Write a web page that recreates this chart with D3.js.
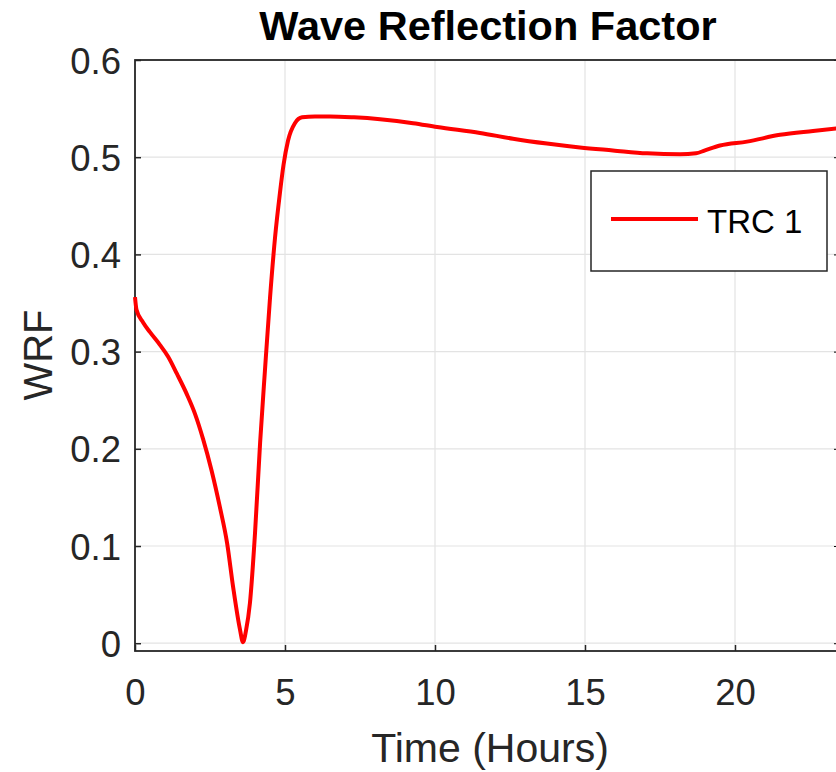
<!DOCTYPE html>
<html>
<head>
<meta charset="utf-8">
<script src="https://cdn.jsdelivr.net/npm/d3@7"></script>
<style>
  html, body { margin: 0; padding: 0; background: #fff; overflow: hidden; }
  text { font-family: "Liberation Sans", Arial, Helvetica, sans-serif; }
</style>
</head>
<body>
<div id="chart"></div>
<script>
// data
var hours = [0, 0.05, 0.27, 0.5, 0.83, 1.1, 1.4, 1.73, 2.0, 2.27, 2.55, 2.83, 3.07, 3.27, 3.5, 3.6,
             3.7, 3.83, 4.0, 4.17, 4.33, 4.5, 4.67, 4.83, 4.95, 5.1, 5.33, 5.57, 6.0, 6.5, 7.3, 8.17,
             9.27, 10.07, 11.5, 12.6, 13.73, 14.83, 15.93, 17.07, 18.17, 18.7, 19.0, 19.5, 20.4, 21.5,
             22.6, 23.5];
var wrf = [0.356, 0.343, 0.330, 0.320, 0.307, 0.295, 0.277, 0.256, 0.236, 0.210, 0.178, 0.140, 0.103, 0.058, 0.014, 0.001,
           0.013, 0.041, 0.113, 0.206, 0.280, 0.355, 0.418, 0.463, 0.492, 0.517, 0.535, 0.541, 0.542, 0.542, 0.541, 0.539,
           0.535, 0.531, 0.525, 0.519, 0.514, 0.510, 0.507, 0.504, 0.503, 0.504, 0.507, 0.512, 0.516, 0.523,
           0.527, 0.530];
var xTicks = [0, 5, 10, 15, 20];
var yTicks = [0, 0.1, 0.2, 0.3, 0.4, 0.5, 0.6];
var seriesName = "TRC 1";

var W = 836, H = 772;
var margin = {top: 60, right: -4, bottom: 121, left: 135};
var axisColor = "#262626";
var gridColor = "#e3e3e3";

var svg = d3.select("#chart").append("svg")
    .attr("width", W)
    .attr("height", H);

var x = d3.scaleLinear().domain([0, 23.5]).range([margin.left, W - margin.right]);
var y = d3.scaleLinear().domain([-0.008, 0.6]).range([H - margin.bottom, margin.top]);

// grid
svg.append("g").selectAll("line.gx")
    .data(xTicks).enter().append("line")
    .attr("x1", function(d) { return x(d); }).attr("x2", function(d) { return x(d); })
    .attr("y1", y.range()[0]).attr("y2", y.range()[1])
    .attr("stroke", gridColor).attr("stroke-width", 1.2);
svg.append("g").selectAll("line.gy")
    .data(yTicks).enter().append("line")
    .attr("x1", x.range()[0]).attr("x2", x.range()[1])
    .attr("y1", function(d) { return y(d); }).attr("y2", function(d) { return y(d); })
    .attr("stroke", gridColor).attr("stroke-width", 1.2);

// axes (inward ticks, MATLAB style)
var xAxis = svg.append("g")
    .attr("transform", "translate(0," + y.range()[0] + ")")
    .call(d3.axisBottom(x).tickValues(xTicks).tickSizeInner(-6).tickSizeOuter(0).tickPadding(0).tickFormat(d3.format("d")));
var yAxis = svg.append("g")
    .attr("transform", "translate(" + x.range()[0] + ",0)")
    .call(d3.axisLeft(y).tickValues(yTicks).tickSizeInner(-6).tickSizeOuter(0).tickPadding(0).tickFormat(function(d) { return d === 0 ? "0" : d3.format(".1f")(d); }));
// right side ticks
svg.append("g")
    .attr("transform", "translate(" + x.range()[1] + ",0)")
    .call(d3.axisRight(y).tickValues(yTicks).tickSizeInner(-6).tickSizeOuter(0).tickFormat(""));

[xAxis, yAxis].forEach(function(g) {
  g.selectAll("path").attr("stroke", axisColor).attr("stroke-width", 1.8);
  g.selectAll("line").attr("stroke", axisColor).attr("stroke-width", 1.5);
  g.selectAll("text").attr("fill", axisColor).style("font-size", "36.5px");
});
svg.selectAll(".domain").remove();
xAxis.selectAll("text").attr("y", 54).attr("dy", 0);
yAxis.selectAll("text").attr("x", -14).attr("dy", "0.36em");

// box
svg.append("rect")
    .attr("x", x.range()[0]).attr("y", y.range()[1])
    .attr("width", x.range()[1] - x.range()[0])
    .attr("height", y.range()[0] - y.range()[1])
    .attr("fill", "none").attr("stroke", axisColor).attr("stroke-width", 1.8);

// line
var line = d3.line()
    .x(function(d, i) { return x(hours[i]); })
    .y(function(d) { return y(d); })
    .curve(d3.curveMonotoneX);

svg.append("path")
    .datum(wrf)
    .attr("d", line)
    .attr("fill", "none")
    .attr("stroke", "#ff0000")
    .attr("stroke-width", 4)
    .attr("stroke-linejoin", "round");

// title and labels
svg.append("text")
    .attr("x", 488).attr("y", 40)
    .attr("text-anchor", "middle")
    .style("font-size", "41.5px").style("font-weight", "bold")
    .attr("fill", "#000")
    .text("Wave Reflection Factor");

svg.append("text")
    .attr("x", 490).attr("y", 762)
    .attr("text-anchor", "middle")
    .style("font-size", "41px")
    .attr("fill", axisColor)
    .text("Time (Hours)");

svg.append("text")
    .attr("transform", "translate(52,355) rotate(-90)")
    .attr("text-anchor", "middle")
    .style("font-size", "40px")
    .attr("fill", axisColor)
    .text("WRF");

// legend
var legend = svg.append("g");
legend.append("rect")
    .attr("x", 591).attr("y", 171).attr("width", 236).attr("height", 100)
    .attr("fill", "#fff").attr("stroke", axisColor).attr("stroke-width", 1.5);
legend.append("line")
    .attr("x1", 611).attr("x2", 698).attr("y1", 219).attr("y2", 219)
    .attr("stroke", "#ff0000").attr("stroke-width", 4);
legend.append("text")
    .attr("x", 707).attr("y", 233)
    .style("font-size", "33px")
    .attr("fill", "#000")
    .text(seriesName);
</script>
</body>
</html>
